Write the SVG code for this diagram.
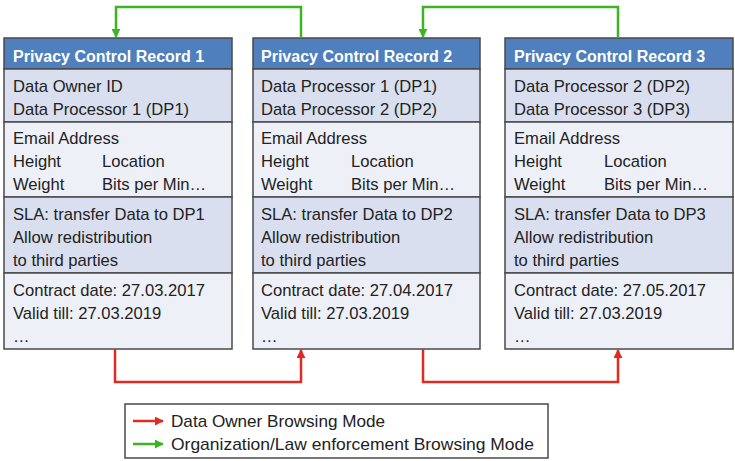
<svg xmlns="http://www.w3.org/2000/svg" width="735" height="461" viewBox="0 0 735 461">
  <defs>
    <marker id="ah-red" viewBox="0 0 10 10" refX="9" refY="5" markerWidth="9" markerHeight="9" markerUnits="userSpaceOnUse" orient="auto">
      <path d="M0,0 L10,5 L0,10 z" fill="#e02a22"/>
    </marker>
    <marker id="ah-green" viewBox="0 0 10 10" refX="9" refY="5" markerWidth="9" markerHeight="9" markerUnits="userSpaceOnUse" orient="auto">
      <path d="M0,0 L10,5 L0,10 z" fill="#3cb521"/>
    </marker>
  </defs>
  <style>
    text { font-family: "Liberation Sans", Arial, sans-serif; font-size: 16.6px; fill: #222; }
    .title { font-size: 16px; font-weight: bold; fill: #ffffff; }
    .lg { font-size: 17px; }
    .hdr { fill: #4f7fbd; stroke: #4a4a4a; stroke-width: 1.5; }
    .sa { fill: #d9dfee; stroke: #4a4a4a; stroke-width: 1.5; }
    .sb { fill: #eef0f8; stroke: #4a4a4a; stroke-width: 1.5; }
    .red { fill: none; stroke: #e02a22; stroke-width: 2.5; }
    .green { fill: none; stroke: #3cb521; stroke-width: 2.5; }
    .legend { fill: #ffffff; stroke: #4a4a4a; stroke-width: 1.5; }
  </style>
  <rect width="735" height="461" fill="#ffffff"/>

  <!-- Record 1 -->
  <g id="record1">
    <rect class="hdr" x="4" y="38" width="228" height="31"/>
    <rect class="sa" x="4" y="69" width="228" height="53"/>
    <rect class="sb" x="4" y="122" width="228" height="75"/>
    <rect class="sa" x="4" y="197" width="228" height="76"/>
    <rect class="sb" x="4" y="273" width="228" height="76"/>
    <text class="title" x="13" y="62">Privacy Control Record 1</text>
    <text x="13" y="92">Data Owner ID</text>
    <text x="13" y="115">Data Processor 1 (DP1)</text>
    <text x="13" y="144">Email Address</text>
    <text x="13" y="167">Height</text>
    <text x="102" y="167">Location</text>
    <text x="13" y="190">Weight</text>
    <text x="102" y="190">Bits per Min…</text>
    <text x="13" y="220">SLA: transfer Data to DP1</text>
    <text x="13" y="243">Allow redistribution</text>
    <text x="13" y="266">to third parties</text>
    <text x="13" y="296">Contract date: 27.03.2017</text>
    <text x="13" y="319">Valid till: 27.03.2019</text>
    <text x="13" y="342">…</text>
  </g>

  <!-- Record 2 -->
  <g id="record2">
    <rect class="hdr" x="253" y="38" width="227" height="31"/>
    <rect class="sa" x="253" y="69" width="227" height="53"/>
    <rect class="sb" x="253" y="122" width="227" height="75"/>
    <rect class="sa" x="253" y="197" width="227" height="76"/>
    <rect class="sb" x="253" y="273" width="227" height="76"/>
    <text class="title" x="261" y="62">Privacy Control Record 2</text>
    <text x="261" y="92">Data Processor 1 (DP1)</text>
    <text x="261" y="115">Data Processor 2 (DP2)</text>
    <text x="261" y="144">Email Address</text>
    <text x="261" y="167">Height</text>
    <text x="351" y="167">Location</text>
    <text x="261" y="190">Weight</text>
    <text x="351" y="190">Bits per Min…</text>
    <text x="261" y="220">SLA: transfer Data to DP2</text>
    <text x="261" y="243">Allow redistribution</text>
    <text x="261" y="266">to third parties</text>
    <text x="261" y="296">Contract date: 27.04.2017</text>
    <text x="261" y="319">Valid till: 27.03.2019</text>
    <text x="261" y="342">…</text>
  </g>

  <!-- Record 3 -->
  <g id="record3">
    <rect class="hdr" x="505" y="38" width="228" height="31"/>
    <rect class="sa" x="505" y="69" width="228" height="53"/>
    <rect class="sb" x="505" y="122" width="228" height="75"/>
    <rect class="sa" x="505" y="197" width="228" height="76"/>
    <rect class="sb" x="505" y="273" width="228" height="76"/>
    <text class="title" x="514" y="62">Privacy Control Record 3</text>
    <text x="514" y="92">Data Processor 2 (DP2)</text>
    <text x="514" y="115">Data Processor 3 (DP3)</text>
    <text x="514" y="144">Email Address</text>
    <text x="514" y="167">Height</text>
    <text x="604" y="167">Location</text>
    <text x="514" y="190">Weight</text>
    <text x="604" y="190">Bits per Min…</text>
    <text x="514" y="220">SLA: transfer Data to DP3</text>
    <text x="514" y="243">Allow redistribution</text>
    <text x="514" y="266">to third parties</text>
    <text x="514" y="296">Contract date: 27.05.2017</text>
    <text x="514" y="319">Valid till: 27.03.2019</text>
    <text x="514" y="342">…</text>
  </g>

  <!-- Connectors -->
  <g id="connectors">
    <path class="green" d="M301,38 V7 H116 V37" marker-end="url(#ah-green)"/>
    <path class="green" d="M618,38 V7 H423 V37" marker-end="url(#ah-green)"/>
    <path class="red" d="M115,349 V382 H301 V350" marker-end="url(#ah-red)"/>
    <path class="red" d="M423,349 V382 H618 V350" marker-end="url(#ah-red)"/>
  </g>

  <!-- Legend -->
  <g id="legend">
    <rect class="legend" x="125" y="404" width="423" height="54"/>
    <line class="red" x1="133" y1="421" x2="163" y2="421" marker-end="url(#ah-red)"/>
    <line class="green" x1="133" y1="444" x2="163" y2="444" marker-end="url(#ah-green)"/>
    <text class="lg" x="171" y="427" textLength="214" lengthAdjust="spacingAndGlyphs">Data Owner Browsing Mode</text>
    <text class="lg" x="171" y="450" textLength="363" lengthAdjust="spacingAndGlyphs">Organization/Law enforcement Browsing Mode</text>
  </g>
</svg>
